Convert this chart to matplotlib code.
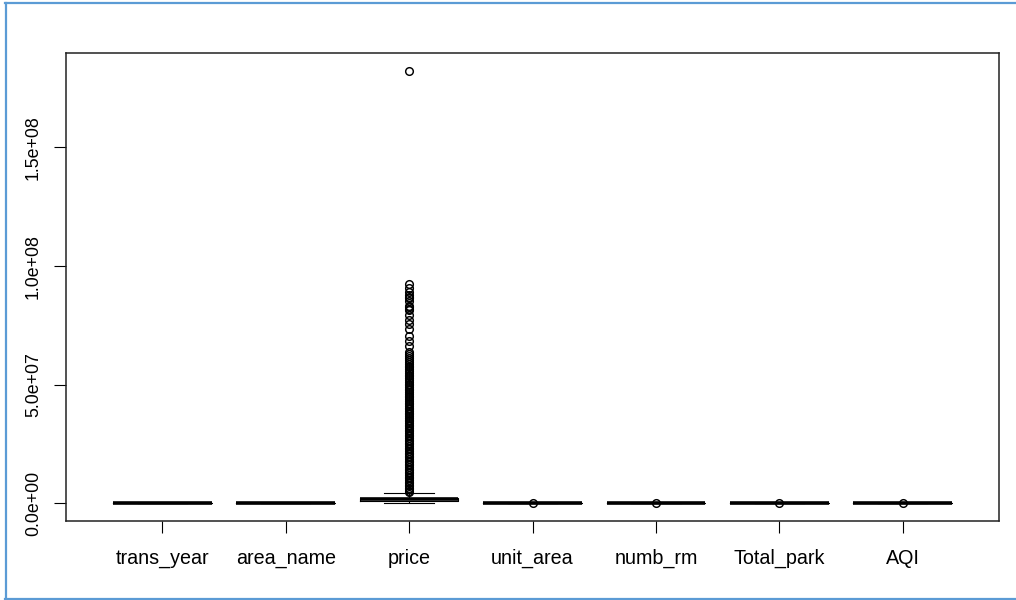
import numpy as np
import matplotlib.pyplot as plt
from matplotlib.lines import Line2D

plt.rcParams['font.family'] = ['Liberation Sans', 'DejaVu Sans']

# columns of the housing data, left to right
columns = ['trans_year', 'area_name', 'price', 'unit_area', 'numb_rm', 'Total_park', 'AQI']

# box statistics per column
whislo = [2004, 1, 0.20e6, 500, 1, 0, 20]
q1 = [2008, 2, 1.10e6, 950, 2, 1, 60]
med = [2010, 4, 1.70e6, 1250, 3, 1, 90]
q3 = [2012, 6, 2.45e6, 1700, 4, 2, 130]
whishi = [2015, 7, 4.45e6, 2800, 6, 4, 230]

# price outliers, in millions
price_out_m = [
    4.6, 5.2, 5.9, 6.5, 7.2, 7.9, 8.5, 9.2, 9.9, 10.5, 11.2, 11.9, 12.6, 13.2,
    13.9, 14.6, 15.3, 16.0, 16.6, 17.3, 18.0, 18.7, 19.4, 20.0, 20.7, 21.4,
    22.1, 22.8, 23.5, 24.2, 24.9, 25.5, 26.2, 26.9, 27.6, 28.3, 29.0, 29.7,
    30.4, 31.1, 31.8, 32.5, 33.2, 33.9, 34.6, 35.3, 36.0, 36.8, 37.5, 38.2,
    38.9, 39.6, 40.3, 41.0, 41.8, 42.5, 43.2, 43.9, 44.7, 45.4, 46.1, 46.9,
    47.6, 48.3, 49.1, 49.8, 50.5, 51.3, 52.0, 52.8, 53.5, 54.3, 55.0, 55.8,
    56.5, 57.3, 58.1, 58.9, 59.7, 60.5, 61.3, 62.1, 62.9, 63.7,
    66.3, 68.4, 70.5, 73.3, 75.4, 77.5, 79.2, 81.3, 82.0, 82.6, 83.1, 85.2,
    86.5, 87.1, 87.8, 89.0, 90.9, 92.5,
    182.4,
]
other_out = [[], [], None, [3600], [8], [6], [480]]

fliers = []
for i, o in enumerate(other_out):
    if o is None:
        fliers.append(np.array(price_out_m) * 1e6)
    else:
        fliers.append(np.array(o, dtype=float))

stats = []
for i in range(len(columns)):
    stats.append(dict(label=columns[i], whislo=whislo[i], q1=q1[i], med=med[i],
                      q3=q3[i], whishi=whishi[i], fliers=fliers[i]))

fig = plt.figure(figsize=(10.16, 6), dpi=100)
ax = fig.add_axes([66 / 1016, 1 - 520.7 / 600, (999 - 66) / 1016, (520.7 - 53.3) / 600])

ax.bxp(stats, positions=range(1, len(columns) + 1), widths=0.8,
       boxprops=dict(color='black', linewidth=0.8),
       medianprops=dict(color='black', linewidth=2.6, solid_capstyle='butt'),
       whiskerprops=dict(color='black', linewidth=0.8, linestyle=(0, (4, 3))),
       capprops=dict(color='black', linewidth=0.8),
       flierprops=dict(marker='o', markerfacecolor='none', markeredgecolor='black',
                       markersize=5.5, markeredgewidth=1.05))

# R-style 4% padding around the data range
lo = min(min(whislo), min(f.min() for f in fliers if len(f)))
hi = max(max(whishi), max(f.max() for f in fliers if len(f)))
pad = 0.04 * (hi - lo)
ax.set_ylim(lo - pad, hi + pad)
ax.set_xlim(0.22, 7.78)

yt = [0, 5e7, 1e8, 1.5e8]
ax.set_yticks(yt)
ax.set_yticklabels([f'{v:.1e}' for v in yt], rotation=90, va='center', fontsize=12.8)
ax.set_xticks(range(1, len(columns) + 1))
ax.set_xticklabels(columns, fontsize=14.2)
ax.tick_params(axis='both', direction='out', length=8.3, width=0.8, color='black')
ax.tick_params(axis='y', pad=9)
ax.tick_params(axis='x', pad=12)
for s in ax.spines.values():
    s.set_linewidth(1.1)
    s.set_color('#222222')

# blue frame around the figure
blue = '#5B9BD5'
fig.add_artist(Line2D([6 / 1016, 6 / 1016], [1 - 2.5 / 600, 1 - 598.5 / 600],
                      transform=fig.transFigure, color=blue, lw=1.6))
fig.add_artist(Line2D([5 / 1016, 1], [1 - 2.5 / 600, 1 - 2.5 / 600],
                      transform=fig.transFigure, color=blue, lw=1.6))
fig.add_artist(Line2D([5 / 1016, 1], [1 - 598.5 / 600, 1 - 598.5 / 600],
                      transform=fig.transFigure, color=blue, lw=1.6))

fig.savefig('out.png', dpi=100)
